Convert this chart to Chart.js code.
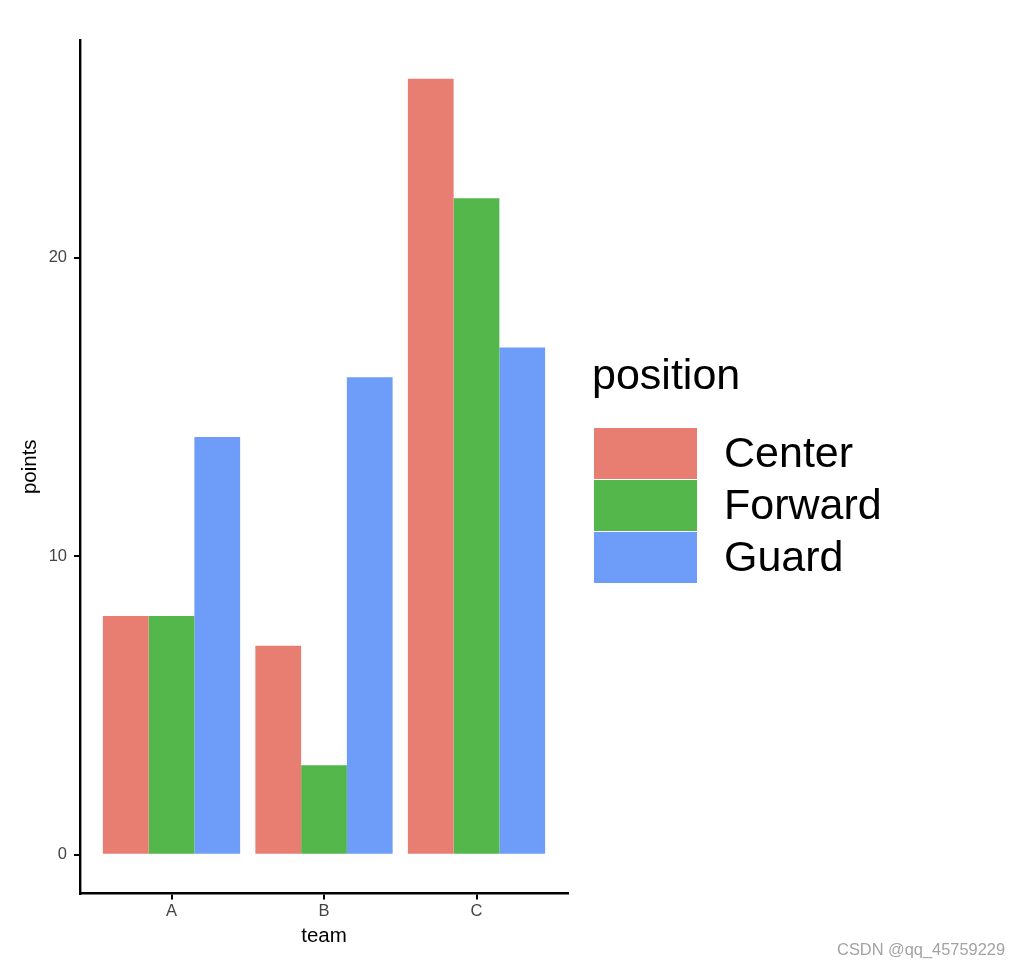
<!DOCTYPE html>
<html>
<head>
<meta charset="utf-8">
<script src="https://cdn.jsdelivr.net/npm/chart.js@4.4.1/dist/chart.umd.min.js"></script>
<style>
  html, body { margin: 0; padding: 0; background: #fff; }
</style>
</head>
<body>
<canvas id="chart" width="1020" height="968"></canvas>
<script>
const teams = ['A', 'B', 'C'];
const positions = ['Center', 'Forward', 'Guard'];
const centerPoints = [8, 7, 26];
const forwardPoints = [8, 3, 22];
const guardPoints = [14, 16, 17];
const yTicks = [0, 10, 20];
const legendTitle = 'position';
const watermark = 'CSDN @qq_45759229';

const colors = ['#E87E72', '#53B74C', '#6D9DF8'];
const fontFamily = '"Liberation Sans", Arial, Helvetica, sans-serif';
Chart.defaults.font.family = fontFamily;

function toPoints(values) {
    return teams.map((t, i) => ({ x: i + 1, y: values[i] }));
}

// ggplot style legend on the right, plus the watermark
const sideLegend = {
    id: 'sideLegend',
    afterDraw(chart) {
        const ctx = chart.ctx;
        ctx.save();
        ctx.font = '43px ' + fontFamily;
        ctx.textBaseline = 'alphabetic';
        ctx.fillStyle = '#000';
        ctx.fillText(legendTitle, 592, 389);
        chart.data.datasets.forEach((ds, i) => {
            const top = 428 + i * 52;
            ctx.fillStyle = ds.backgroundColor;
            ctx.fillRect(594, top, 103, 51);
            ctx.fillStyle = '#000';
            ctx.fillText(ds.label, 724, top + 39);
        });
        ctx.font = '16.4px ' + fontFamily;
        ctx.textAlign = 'right';
        ctx.fillStyle = '#a3a3a3';
        ctx.fillText(watermark, 1005, 955);
        ctx.restore();
    }
};

const axisGrid = {
    offset: false,
    drawOnChartArea: false,
    drawTicks: true,
    tickLength: 6,
    color: '#000',
    lineWidth: 2
};
const axisBorder = { display: true, color: '#000', width: 2.4 };
const tickFont = { size: 16.5 };
const titleFont = { size: 20.5 };

new Chart(document.getElementById('chart'), {
    type: 'bar',
    data: {
        datasets: [
            { label: positions[0], data: toPoints(centerPoints), backgroundColor: colors[0] },
            { label: positions[1], data: toPoints(forwardPoints), backgroundColor: colors[1] },
            { label: positions[2], data: toPoints(guardPoints), backgroundColor: colors[2] }
        ]
    },
    options: {
        responsive: false,
        devicePixelRatio: 1,
        animation: false,
        layout: { padding: { top: 40, right: 452, bottom: 0, left: 0 } },
        datasets: {
            bar: { categoryPercentage: 0.9, barPercentage: 1.0, borderWidth: 0 }
        },
        plugins: {
            legend: { display: false },
            tooltip: { enabled: false }
        },
        scales: {
            x: {
                type: 'linear',
                offset: false,
                min: 0.4,
                max: 3.6,
                afterBuildTicks: s => { s.ticks = teams.map((t, i) => ({ value: i + 1 })); },
                afterFit: s => { s.height = 74.5; },
                ticks: {
                    callback: v => teams[v - 1],
                    font: tickFont,
                    color: '#444',
                    padding: 2
                },
                grid: axisGrid,
                border: axisBorder,
                title: {
                    display: true,
                    text: 'team',
                    font: titleFont,
                    color: '#000',
                    padding: { top: 0, bottom: 19.7 }
                }
            },
            y: {
                type: 'linear',
                min: -1.3,
                max: 27.3,
                afterBuildTicks: s => { s.ticks = yTicks.map(v => ({ value: v })); },
                afterFit: s => { s.width = 80; },
                ticks: {
                    font: tickFont,
                    color: '#444',
                    padding: 7
                },
                grid: axisGrid,
                border: axisBorder,
                title: {
                    display: true,
                    text: 'points',
                    font: titleFont,
                    color: '#000',
                    padding: { top: 17.7, bottom: 0 }
                }
            }
        }
    },
    plugins: [sideLegend]
});
</script>
</body>
</html>
